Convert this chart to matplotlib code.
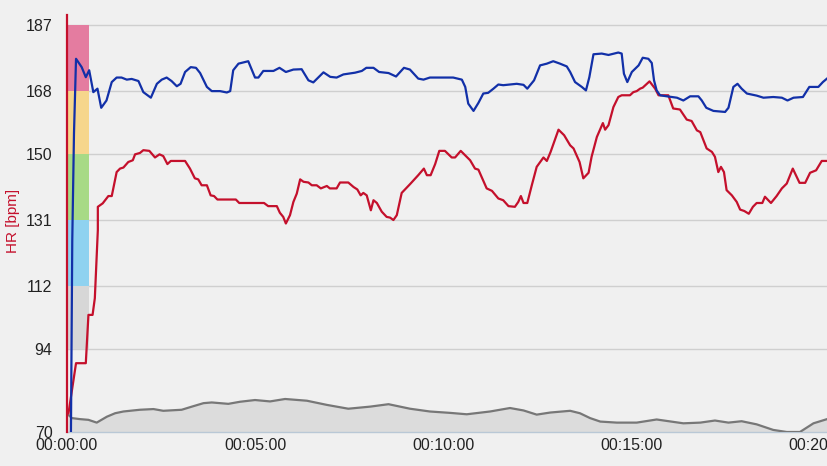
# -*- coding: utf-8 -*-
"""
HR trace with zone bar (recreated chart)
"""

import matplotlib
matplotlib.use('Agg')
import matplotlib.pyplot as plt
import matplotlib.transforms as mtransforms
from matplotlib.patches import Rectangle
from matplotlib.ticker import FuncFormatter

plt.rcParams['font.family'] = ['Liberation Sans', 'DejaVu Sans']

# ---- data (minutes, bpm) ----
hr_t = [0.04, 0.24, 0.50, 0.57, 0.68, 0.74, 0.82, 0.82, 0.95, 1.10, 1.19, 1.32, 1.41, 1.50, 1.63,
        1.75, 1.81, 1.94, 2.03, 2.19, 2.34, 2.46, 2.56, 2.67, 2.76, 3.14, 3.27, 3.40, 3.49, 3.58,
        3.72, 3.82, 3.91, 4.00, 4.49, 4.58, 5.24, 5.35, 5.58, 5.66, 5.75, 5.82, 5.93, 6.02, 6.11,
        6.20, 6.29, 6.42, 6.51, 6.64, 6.75, 6.91, 6.99, 7.17, 7.26, 7.48, 7.62, 7.72, 7.81, 7.88,
        7.97, 8.08, 8.15, 8.24, 8.37, 8.50, 8.59, 8.68, 8.77, 8.90, 9.12, 9.34, 9.49, 9.57, 9.67,
        9.79, 9.90, 10.05, 10.23, 10.32, 10.47, 10.72, 10.85, 10.94, 11.16, 11.30, 11.47, 11.60,
        11.74, 11.91, 12.00, 12.07, 12.14, 12.24, 12.36, 12.49, 12.67, 12.76, 12.86, 13.07, 13.22,
        13.38, 13.47, 13.63, 13.73, 13.87, 13.95, 14.09, 14.25, 14.31, 14.40, 14.53, 14.66, 14.75,
        14.97, 15.06, 15.15, 15.24, 15.31, 15.49, 15.64, 15.73, 15.99, 16.12, 16.30, 16.48, 16.61,
        16.75, 16.84, 17.01, 17.15, 17.23, 17.32, 17.39, 17.47, 17.54, 17.68, 17.81, 17.90, 18.01,
        18.13, 18.24, 18.34, 18.49, 18.56, 18.72, 18.87, 19.01, 19.14, 19.30, 19.48, 19.63, 19.76,
        19.92, 20.07, 20.21]
hr_bpm = [75.4, 89.8, 89.8, 103.7, 103.7, 108.5, 128.1, 134.8, 135.8, 137.9, 137.9, 144.8, 145.8,
          146.1, 147.7, 148.2, 149.9, 150.3, 151.1, 150.9, 149.0, 149.9, 149.4, 147.1, 148.0,
          148.0, 145.8, 143.0, 142.7, 141.0, 141.0, 138.1, 137.9, 136.9, 136.9, 135.9, 135.9,
          135.0, 135.0, 133.1, 131.9, 130.0, 132.4, 136.2, 138.6, 142.7, 142.0, 141.8, 141.0,
          141.0, 140.1, 140.8, 140.1, 140.1, 141.8, 141.8, 140.5, 139.8, 138.1, 138.8, 138.1,
          133.8, 136.7, 135.9, 133.4, 131.9, 131.7, 131.0, 132.4, 138.8, 141.3, 143.9, 145.8,
          143.9, 143.9, 147.1, 150.9, 150.9, 149.0, 149.0, 150.9, 148.2, 145.8, 145.5, 140.1,
          139.4, 137.2, 136.7, 135.0, 134.8, 136.2, 137.9, 135.9, 135.9, 141.0, 146.3, 149.0,
          148.0, 150.6, 157.0, 155.4, 152.5, 151.6, 147.7, 143.0, 144.6, 149.2, 154.9, 158.9,
          157.0, 158.3, 163.5, 166.4, 166.9, 166.9, 167.8, 168.1, 168.8, 169.1, 170.9, 168.8,
          166.9, 166.9, 163.1, 162.8, 159.9, 159.5, 156.8, 156.3, 151.6, 150.6, 149.2, 144.8,
          146.3, 144.8, 139.6, 138.1, 136.2, 134.0, 133.6, 132.8, 134.8, 135.9, 135.9, 137.7,
          135.9, 137.9, 140.1, 141.5, 145.8, 141.7, 141.7, 144.6, 145.3, 148.0, 148.0]

blue_t = [0.10, 0.14, 0.186, 0.24, 0.39, 0.50, 0.59, 0.70, 0.81, 0.91, 1.05, 1.19, 1.32, 1.45, 1.59,
          1.72, 1.90, 2.03, 2.23, 2.39, 2.52, 2.65, 2.78, 2.92, 3.02, 3.14, 3.29, 3.43, 3.54, 3.72,
          3.85, 4.07, 4.25, 4.34, 4.42, 4.56, 4.82, 5.00, 5.09, 5.22, 5.49, 5.65, 5.82, 6.02, 6.24,
          6.42, 6.55, 6.82, 7.00, 7.17, 7.35, 7.66, 7.84, 7.96, 8.15, 8.30, 8.55, 8.75, 8.96, 9.12,
          9.34, 9.48, 9.65, 10.27, 10.50, 10.59, 10.67, 10.81, 10.94, 11.07, 11.20, 11.34, 11.47,
          11.60, 11.96, 12.14, 12.24, 12.42, 12.58, 12.76, 12.93, 13.11, 13.29, 13.38, 13.51, 13.69,
          13.80, 13.89, 14.00, 14.22, 14.40, 14.66, 14.75, 14.81, 14.90, 15.02, 15.20, 15.31, 15.46,
          15.55, 15.61, 15.68, 15.77, 15.95, 16.22, 16.39, 16.57, 16.79, 16.88, 17.00, 17.19, 17.50,
          17.59, 17.72, 17.83, 17.94, 18.08, 18.34, 18.52, 18.78, 19.01, 19.16, 19.32, 19.57, 19.74,
          19.98, 20.10, 20.21]
blue_val = [62.0, 125.0, 156.0, 177.4, 175.0, 172.1, 174.1, 167.8, 168.8, 163.3, 165.4, 170.7, 172.0,
            172.0, 171.4, 171.6, 171.0, 167.8, 166.2, 170.2, 171.4, 172.0, 171.0, 169.5, 170.2,
            173.6, 175.0, 174.8, 173.3, 169.3, 168.1, 168.1, 167.7, 168.1, 174.1, 176.0, 176.7,
            172.0, 172.0, 173.9, 173.9, 174.8, 173.6, 174.3, 174.4, 171.2, 170.6, 173.5, 172.2,
            172.0, 172.9, 173.4, 173.9, 174.8, 174.8, 173.6, 173.3, 172.3, 174.8, 174.3, 171.7,
            171.4, 172.0, 172.0, 171.4, 169.3, 164.5, 162.4, 164.7, 167.4, 167.6, 168.8, 170.0,
            169.8, 170.2, 169.9, 168.8, 171.2, 175.5, 176.0, 176.7, 176.0, 175.2, 173.6, 170.7,
            169.3, 168.3, 172.1, 178.7, 178.9, 178.5, 179.2, 178.9, 173.1, 170.7, 173.6, 175.5,
            177.7, 177.4, 176.2, 171.2, 168.3, 166.9, 166.6, 166.2, 165.4, 166.6, 166.6, 165.4,
            163.3, 162.4, 162.1, 163.3, 169.3, 170.2, 168.8, 167.4, 166.8, 166.2, 166.4, 166.2,
            165.4, 166.2, 166.4, 169.3, 169.3, 170.7, 171.7]

# grey background series (same axis units)
gray_t = [0.03, 0.13, 0.35, 0.57, 0.79, 1.06, 1.28, 1.50, 1.76, 1.94, 2.30, 2.56, 3.05, 3.32, 3.63,
          3.85, 4.29, 4.60, 5.00, 5.40, 5.80, 6.38, 6.91, 7.48, 8.06, 8.55, 9.12, 9.65, 10.19,
          10.63, 11.25, 11.78, 12.14, 12.49, 12.85, 13.38, 13.64, 13.91, 14.18, 14.62, 15.15,
          15.68, 16.39, 16.84, 17.23, 17.59, 17.94, 18.34, 18.78, 19.14, 19.49, 19.85, 20.21]
gray_val = [75.0, 74.0, 73.7, 73.5, 72.7, 74.4, 75.4, 75.9, 76.2, 76.4, 76.6, 76.1, 76.4, 77.3, 78.3,
            78.5, 78.1, 78.7, 79.2, 78.8, 79.5, 79.0, 77.8, 76.7, 77.3, 78.0, 76.7, 75.9, 75.5,
            75.1, 75.9, 76.9, 76.2, 75.0, 75.6, 76.1, 75.4, 74.0, 73.0, 72.7, 72.7, 73.6, 72.5,
            72.7, 73.3, 72.7, 73.1, 72.2, 70.6, 70.0, 70.0, 72.5, 73.7]

# HR zones: (lower, upper, colour)
zone_lo = [94, 112, 131, 150, 168]
zone_hi = [112, 131, 150, 168, 187]
zone_col = ['#d7d7d7', '#8fd2f0', '#a7da86', '#f6d68c', '#e47ca0']

y_ticks = [70, 94, 112, 131, 150, 168, 187]
x_ticks = [0, 5, 10, 15, 20]

BG = '#f0f0f0'
RED = '#c4102c'
BLUE = '#1230a8'

fig = plt.figure(figsize=(8.27, 4.66), dpi=100, facecolor=BG)
ax = fig.add_axes([67 / 827, 34 / 466, 760 / 827, 417 / 466], facecolor=BG)

# zone bar at the left edge (x in axes fraction)
trans = mtransforms.blended_transform_factory(ax.transAxes, ax.transData)
for lo, hi, c in zip(zone_lo, zone_hi, zone_col):
    ax.add_patch(Rectangle((0, lo), 0.029, hi - lo, transform=trans,
                           facecolor=c, edgecolor='none', zorder=1))

# background series (grey area)
ax.fill_between(gray_t, gray_val, 70, color='#dcdcdc', linewidth=0, zorder=2)
ax.plot(gray_t, gray_val, color='#777777', linewidth=1.6, zorder=3)

ax.plot(hr_t, hr_bpm, color=RED, linewidth=1.6, zorder=4)
ax.plot(blue_t, blue_val, color=BLUE, linewidth=1.6, zorder=5)

ax.set_xlim(0, 20.21)
ax.set_ylim(70, 190)
ax.set_yticks(y_ticks)
ax.set_xticks(x_ticks)
ax.xaxis.set_major_formatter(FuncFormatter(lambda m, p: f'00:{int(round(m)):02d}:00'))
ax.grid(axis='y', color='#cfcfcf', linewidth=1.0, zorder=0)
ax.set_axisbelow(True)

ax.tick_params(axis='y', length=0, pad=10.5, labelsize=11.5, labelcolor='#222222')
ax.tick_params(axis='x', length=0, pad=4.5, labelsize=11.5, labelcolor='#222222')

for s in ['top', 'right']:
    ax.spines[s].set_visible(False)
ax.spines['left'].set_color(RED)
ax.spines['left'].set_linewidth(1.6)
ax.spines['left'].set_zorder(6)
ax.spines['bottom'].set_color('#b9c8d6')
ax.spines['bottom'].set_linewidth(1.0)

fig.text(12.5 / 827, 1 - 221 / 466, 'HR [bpm]', rotation=90, color=RED,
         fontsize=11, ha='center', va='center')

fig.savefig('out.png', dpi=100, facecolor=BG)
